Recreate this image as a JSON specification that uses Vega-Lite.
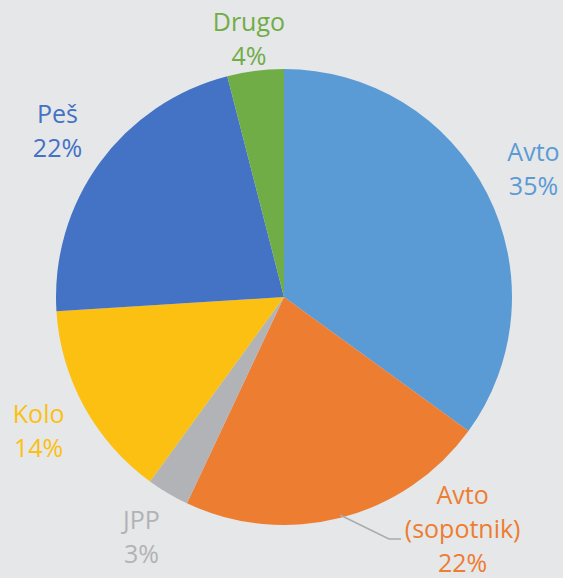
{
  "$schema": "https://vega.github.io/schema/vega-lite/v6.json",
  "width": 456,
  "height": 456,
  "autosize": {"type": "none"},
  "padding": {"left": 56, "top": 69, "right": 51, "bottom": 53},
  "background": "#e6e7e9",
  "config": {"view": {"stroke": null}},
  "datasets": {
    "share": [
      {"cat": "Avto", "value": 35, "i": 1},
      {"cat": "Avto (sopotnik)", "value": 22, "i": 2},
      {"cat": "JPP", "value": 3, "i": 3},
      {"cat": "Kolo", "value": 14, "i": 4},
      {"cat": "Peš", "value": 22, "i": 5},
      {"cat": "Drugo", "value": 4, "i": 6}
    ],
    "leader": [
      {"px": 0.2456, "py": -0.956, "k": 1},
      {"px": 0.4605, "py": -1.061, "k": 2},
      {"px": 0.5132, "py": -1.061, "k": 3}
    ]
  },
  "layer": [
    {
      "data": {"name": "share"},
      "transform": [
        {"stack": "value", "groupby": [], "sort": [{"field": "i", "order": "ascending"}], "as": ["v0", "v1"]}
      ],
      "mark": {"type": "arc", "stroke": null},
      "encoding": {
        "theta": {"field": "v0", "type": "quantitative", "scale": {"domain": [0, 100]}},
        "theta2": {"field": "v1"},
        "color": {
          "field": "cat", "type": "nominal", "legend": null,
          "scale": {
            "domain": ["Avto", "Avto (sopotnik)", "JPP", "Kolo", "Peš", "Drugo"],
            "range": ["#5b9bd5", "#ed7d31", "#b1b3b6", "#fbc012", "#4472c4", "#70ad47"]
          }
        }
      }
    },
    {
      "data": {"name": "share"},
      "transform": [
        {"stack": "value", "groupby": [], "sort": [{"field": "i", "order": "ascending"}], "as": ["v0", "v1"]},
        {"calculate": "(datum.v0 + datum.v1) / 2", "as": "mid"},
        {"calculate": "replace(datum.cat, ' ', '\\n') + '\\n' + datum.value + '%'", "as": "label"},
        {"filter": "datum.cat !== 'Avto (sopotnik)' && datum.cat !== 'Drugo'"}
      ],
      "mark": {"type": "text", "radius": 280, "dy": -17, "font": "Open Sans", "fontSize": 25, "lineBreak": "\n", "lineHeight": 34, "align": "center", "baseline": "middle"},
      "encoding": {
        "theta": {"field": "mid", "type": "quantitative", "scale": {"domain": [0, 100]}},
        "color": {"field": "cat", "type": "nominal", "legend": null},
        "text": {"field": "label"}
      }
    },
    {
      "data": {"name": "share"},
      "transform": [
        {"stack": "value", "groupby": [], "sort": [{"field": "i", "order": "ascending"}], "as": ["v0", "v1"]},
        {"calculate": "(datum.v0 + datum.v1) / 2", "as": "mid"},
        {"calculate": "replace(datum.cat, ' ', '\\n') + '\\n' + datum.value + '%'", "as": "label"},
        {"filter": "datum.cat === 'Drugo'"}
      ],
      "mark": {"type": "text", "radius": 280, "dy": 4, "font": "Open Sans", "fontSize": 25, "lineBreak": "\n", "lineHeight": 34, "align": "center", "baseline": "middle"},
      "encoding": {
        "theta": {"field": "mid", "type": "quantitative", "scale": {"domain": [0, 100]}},
        "color": {"field": "cat", "type": "nominal", "legend": null},
        "text": {"field": "label"}
      }
    },
    {
      "data": {"name": "share"},
      "transform": [
        {"stack": "value", "groupby": [], "sort": [{"field": "i", "order": "ascending"}], "as": ["v0", "v1"]},
        {"calculate": "(datum.v0 + datum.v1) / 2", "as": "mid"},
        {"calculate": "replace(datum.cat, ' ', '\\n') + '\\n' + datum.value + '%'", "as": "label"},
        {"filter": "datum.cat === 'Avto (sopotnik)'"}
      ],
      "mark": {"type": "text", "radius": 280, "dx": 109, "dy": -72, "font": "Open Sans", "fontSize": 25, "lineBreak": "\n", "lineHeight": 34, "align": "center", "baseline": "middle"},
      "encoding": {
        "theta": {"field": "mid", "type": "quantitative", "scale": {"domain": [0, 100]}},
        "color": {"field": "cat", "type": "nominal", "legend": null},
        "text": {"field": "label"}
      }
    },
    {
      "data": {"name": "leader"},
      "mark": {"type": "line", "color": "#a9abae", "strokeWidth": 1.5},
      "encoding": {
        "x": {"field": "px", "type": "quantitative", "axis": null, "scale": {"domain": [-1, 1], "nice": false, "zero": false}},
        "y": {"field": "py", "type": "quantitative", "axis": null, "scale": {"domain": [-1, 1], "nice": false, "zero": false}},
        "order": {"field": "k"}
      }
    }
  ]
}
